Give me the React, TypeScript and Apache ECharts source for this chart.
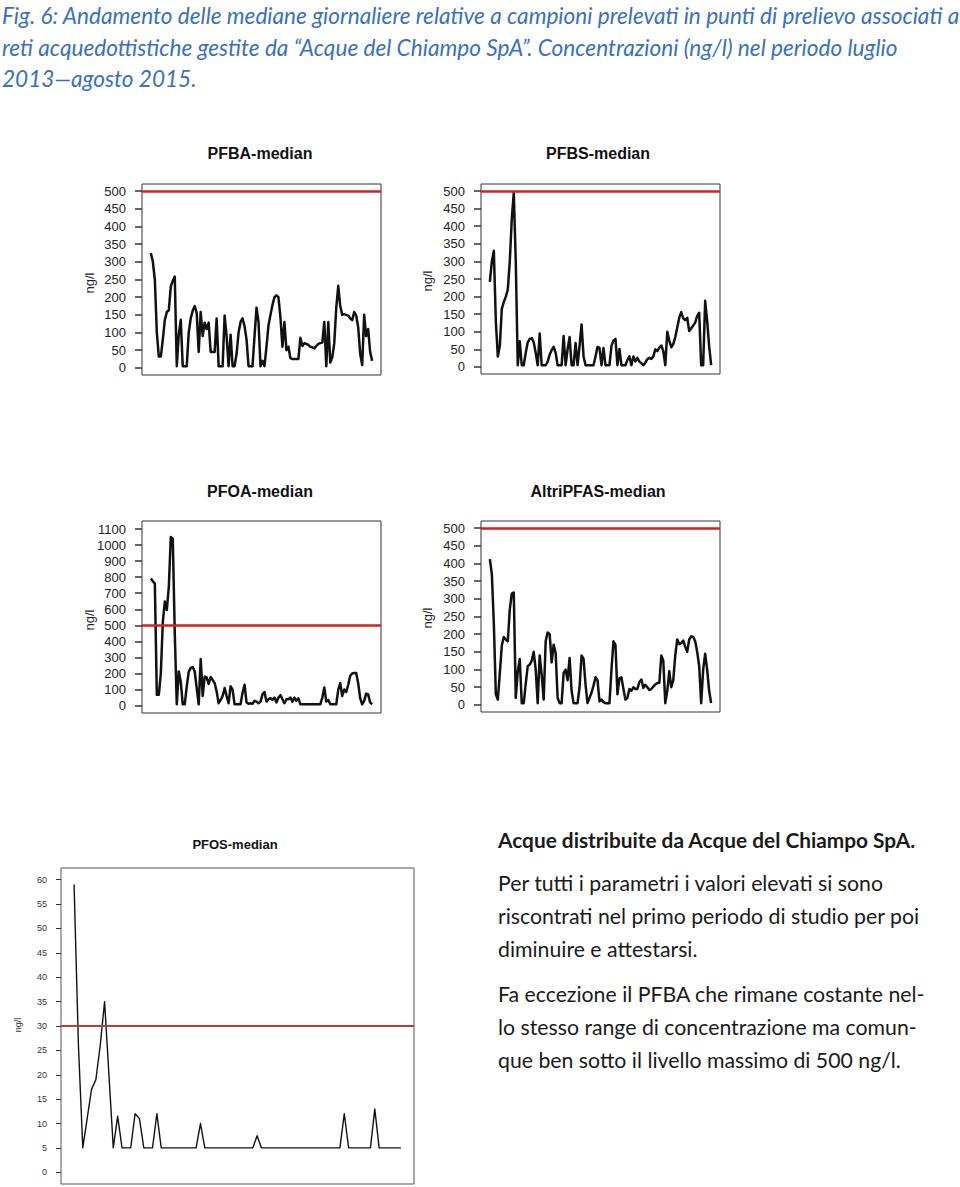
import React, { useEffect, useRef } from "react";
import * as echarts from "echarts";

// ---- data (ng/l) ----
const PFBA = [
  325, 300, 250, 100, 32, 32, 80, 135, 158, 163,
  230, 247, 258, 5, 94, 136, 5, 5, 5, 100,
  140, 162, 175, 155, 45, 158, 90, 128, 110, 128,
  45, 45, 45, 140, 5, 5, 5, 148, 90, 5,
  94, 5, 5, 40, 100, 130, 140, 118, 80, 5,
  5, 5, 90, 170, 130, 5, 20, 5, 60, 120,
  150, 178, 200, 205, 200, 143, 60, 130, 50, 60,
  28, 25, 25, 25, 25, 85, 62, 70, 68, 65,
  60, 58, 55, 62, 68, 70, 72, 130, 5, 130,
  15, 30, 70, 170, 232, 175, 150, 152, 150, 148,
  140, 135, 158, 148, 115, 40, 8, 150, 90, 110,
  45, 20,
];
const PFBS = [
  242, 300, 330, 130, 30, 60, 165, 185, 200, 220,
  300, 420, 495, 300, 5, 73, 5, 5, 40, 70,
  80, 82, 70, 40, 5, 95, 5, 5, 5, 15,
  35, 48, 57, 40, 5, 5, 5, 88, 5, 50,
  85, 5, 5, 68, 5, 60, 121, 30, 5, 5,
  5, 5, 5, 30, 57, 54, 5, 54, 5, 5,
  5, 60, 75, 80, 5, 51, 5, 5, 5, 20,
  30, 5, 30, 16, 26, 15, 11, 5, 12, 22,
  26, 23, 30, 50, 45, 55, 61, 45, 5, 100,
  75, 56, 65, 85, 112, 140, 156, 138, 133, 140,
  102, 110, 118, 126, 145, 154, 5, 5, 188, 130,
  59, 5,
];
const PFOA = [
  792, 775, 760, 67, 67, 200, 520, 648, 595, 736,
  1050, 1040, 450, 8, 213, 150, 8, 8, 120, 210,
  235, 240, 213, 109, 8, 290, 60, 180, 175, 135,
  178, 160, 140, 88, 15, 35, 60, 110, 60, 15,
  120, 100, 8, 8, 8, 8, 80, 130, 20, 12,
  15, 12, 30, 25, 15, 25, 70, 85, 25, 40,
  46, 36, 50, 20, 50, 65, 40, 15, 40, 40,
  50, 25, 50, 30, 45, 8, 8, 8, 8, 8,
  8, 8, 8, 8, 8, 8, 50, 113, 25, 35,
  8, 8, 8, 8, 100, 140, 60, 100, 85, 130,
  186, 200, 203, 203, 140, 46, 8, 30, 75, 70,
  20, 8,
];
const ALTRI = [
  412, 370, 230, 30, 15, 90, 168, 192, 185, 180,
  270, 315, 318, 20, 95, 130, 5, 5, 60, 110,
  114, 125, 150, 100, 5, 140, 86, 15, 180, 205,
  200, 120, 170, 147, 20, 5, 5, 90, 100, 70,
  133, 40, 5, 5, 5, 50, 140, 130, 57, 5,
  20, 35, 55, 78, 70, 10, 15, 8, 5, 5,
  5, 100, 180, 170, 30, 75, 78, 45, 15, 20,
  45, 40, 50, 45, 45, 65, 72, 48, 57, 50,
  42, 45, 52, 58, 62, 62, 140, 125, 5, 40,
  95, 50, 70, 140, 185, 172, 175, 182, 165, 150,
  185, 194, 192, 180, 150, 110, 5, 100, 145, 100,
  40, 5,
];
const PFOS = [
  59, 26, 5, 11, 17, 19, 26, 35, 20, 5,
  11.5, 5, 5, 5, 12, 11, 5, 5, 5, 12,
  5, 5, 5, 5, 5, 5, 5, 5, 5, 10,
  5, 5, 5, 5, 5, 5, 5, 5, 5, 5,
  5, 5, 7.5, 5, 5, 5, 5, 5, 5, 5,
  5, 5, 5, 5, 5, 5, 5, 5, 5, 5,
  5, 5, 12, 5, 5, 5, 5, 5, 5, 13,
  5, 5, 5, 5, 5, 5,
];

const TICKS_500 = [0, 50, 100, 150, 200, 250, 300, 350, 400, 450, 500];
const TICKS_1100 = [0, 100, 200, 300, 400, 500, 600, 700, 800, 900, 1000, 1100];
const TICKS_60 = [0, 5, 10, 15, 20, 25, 30, 35, 40, 45, 50, 55, 60];

const TITLES = ["PFBA-median", "PFBS-median", "PFOA-median", "AltriPFAS-median", "PFOS-median"];
const LIMITS = [500, 500, 500, 500, 30];
const Y_NAME = "ng/l";

const CAPTION = [
  "Fig. 6: Andamento delle mediane giornaliere relative a campioni prelevati in punti di prelievo associati a",
  "reti acquedottistiche gestite da \u201CAcque del Chiampo SpA\u201D. Concentrazioni (ng/l) nel periodo luglio",
  "2013\u2014agosto 2015.",
];
const HEADING = "Acque distribuite da Acque del Chiampo SpA.";
const PARAGRAPH = [
  "Per tutti i parametri i valori elevati si sono",
  "riscontrati nel primo periodo di studio per poi",
  "diminuire e attestarsi.",
  "Fa eccezione il PFBA che rimane costante nel-",
  "lo stesso range di concentrazione ma comun-",
  "que ben sotto il livello massimo di 500 ng/l.",
];

const TEXT_FONT = "Lato, 'Open Sans', sans-serif";
const AXIS_FONT = "'Liberation Sans', Arial, sans-serif";

function fitSize(text: string, style: string, weight: string, target: number): number {
  const ctx = document.createElement("canvas").getContext("2d");
  if (!ctx) return 18;
  ctx.font = `${style} ${weight} 100px ${TEXT_FONT}`;
  const w = ctx.measureText(text).width;
  return w > 0 ? (100 * target) / w : 18;
}

export default function App() {
  const ref = useRef<HTMLDivElement>(null);

  useEffect(() => {
    if (!ref.current) return;
    const chart = echarts.init(ref.current, undefined, { renderer: "svg" });

    const n1 = PFBA.length - 1;
    const n5 = PFOS.length - 1;
    const panels = [
      { data: PFBA, ticks: TICKS_500, ymin: -20, ymax: 520, n: n1, grid: { left: 142, top: 184, width: 239, height: 191 } },
      { data: PFBS, ticks: TICKS_500, ymin: -20, ymax: 520, n: n1, grid: { left: 481, top: 184, width: 239, height: 190 } },
      { data: PFOA, ticks: TICKS_1100, ymin: -46, ymax: 1150, n: n1, grid: { left: 142, top: 521, width: 239, height: 192 } },
      { data: ALTRI, ticks: TICKS_500, ymin: -20, ymax: 520, n: n1, grid: { left: 481, top: 521, width: 239, height: 191 } },
      { data: PFOS, ticks: TICKS_60, ymin: -2.4, ymax: 62.4, n: n5, grid: { left: 61, top: 868, width: 353, height: 316 } },
    ];

    const capSize = (fitSize(CAPTION[0], "italic", "400", 956) + fitSize(CAPTION[1], "italic", "400", 898)) / 2;
    const headSize = fitSize(HEADING, "normal", "700", 418);
    const paraSize = (fitSize(PARAGRAPH[5], "normal", "400", 402) + fitSize(PARAGRAPH[2], "normal", "400", 200)) / 2;

    const titlePos = [
      [260, 153], [598, 153], [260, 491], [598, 491], [235, 844],
    ];
    const yNamePos = [
      [89, 283], [427, 281], [89, 620], [427, 618], [18, 1025],
    ];

    const graphics: any[] = [];
    TITLES.forEach((t, i) => {
      graphics.push({
        type: "text", x: titlePos[i][0], y: titlePos[i][1],
        style: { text: t, fontSize: i === 4 ? 13 : 16, fontWeight: "bold", fontFamily: AXIS_FONT, fill: "#111", align: "center", verticalAlign: "middle" },
      });
      graphics.push({
        type: "text", x: yNamePos[i][0], y: yNamePos[i][1], rotation: Math.PI / 2,
        style: { text: Y_NAME, fontSize: i === 4 ? 9 : 13, fontFamily: AXIS_FONT, fill: i === 4 ? "#333" : "#222", align: "center", verticalAlign: "middle" },
      });
    });
    const capY = [15, 47, 78];
    CAPTION.forEach((t, i) => {
      graphics.push({
        type: "text", x: 2, y: capY[i],
        style: { text: t, fontSize: capSize, fontStyle: "italic", fontFamily: TEXT_FONT, fill: "#3A70BE", align: "left", verticalAlign: "middle" },
      });
    });
    graphics.push({
      type: "text", x: 498, y: 839,
      style: { text: HEADING, fontSize: headSize, fontWeight: "bold", fontFamily: TEXT_FONT, fill: "#1a1a1a", align: "left", verticalAlign: "middle" },
    });
    const paraY = [883, 916, 949, 994, 1027, 1060];
    PARAGRAPH.forEach((t, i) => {
      graphics.push({
        type: "text", x: 498, y: paraY[i],
        style: { text: t, fontSize: paraSize, fontFamily: TEXT_FONT, fill: "#1a1a1a", align: "left", verticalAlign: "middle" },
      });
    });

    const option: any = {
      animation: false,
      backgroundColor: "#ffffff",
      grid: panels.map((p, i) => ({
        ...p.grid,
        show: true,
        borderColor: i === 4 ? "#555" : "#333",
        borderWidth: 1,
        backgroundColor: "transparent",
        containLabel: false,
      })),
      xAxis: panels.map((p, i) => ({
        type: "value", gridIndex: i, min: -0.04 * p.n, max: p.n * 1.04, show: false,
        axisLine: { onZero: false },
      })),
      yAxis: panels.map((p, i) => ({
        type: "value",
        gridIndex: i,
        min: p.ymin,
        max: p.ymax,
        position: "left",
        axisLine: { show: false, onZero: false },
        splitLine: { show: false },
        axisTick: {
          show: true,
          customValues: p.ticks,
          length: i === 4 ? 5 : 7,
          lineStyle: { color: "#333", width: i === 4 ? 1 : 1.5 },
        },
        axisLabel: {
          customValues: p.ticks,
          formatter: (v: number) => String(v),
          margin: i === 4 ? 14 : 16,
          fontSize: i === 4 ? 9 : 13,
          fontFamily: AXIS_FONT,
          color: i === 4 ? "#333" : "#222",
        },
      })),
      series: panels.map((p, i) => ({
        type: "line",
        xAxisIndex: i,
        yAxisIndex: i,
        data: p.data.map((v, j) => [j, v]),
        showSymbol: false,
        symbol: "none",
        lineStyle: { color: "#111", width: i === 4 ? 1.4 : 2.5, join: "round" },
        markLine: {
          silent: true,
          symbol: "none",
          label: { show: false },
          lineStyle: { color: i === 4 ? "#b3403e" : "#d42020", width: i === 4 ? 2.2 : 2.5, type: "solid" },
          data: [{ yAxis: LIMITS[i] }],
        },
      })),
      graphic: graphics,
    };

    chart.setOption(option);
    return () => chart.dispose();
  }, []);

  return (
    <div
      ref={ref}
      style={{ position: "absolute", left: 0, top: 0, width: 960, height: 1187, background: "#fff" }}
    />
  );
}
